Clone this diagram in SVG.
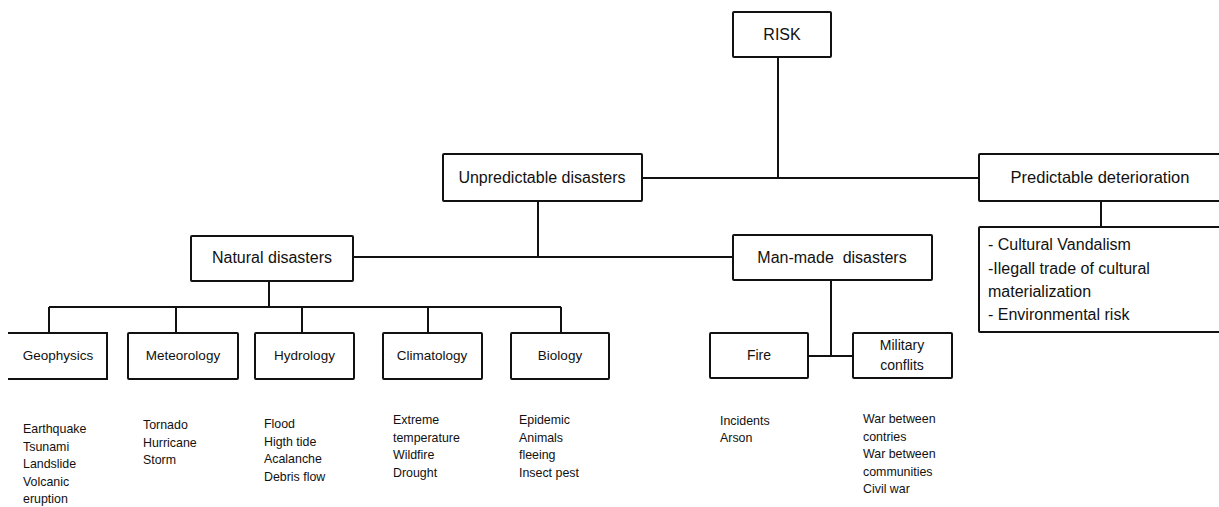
<svg xmlns="http://www.w3.org/2000/svg" width="1219" height="507" viewBox="0 0 1219 507">
<style>
.box{fill:#fff;stroke:#111;stroke-width:2}
.ln{fill:none;stroke:#111;stroke-width:2}
text{font-family:"Liberation Sans",Arial,sans-serif;fill:#111}
.l1{font-size:16px;text-anchor:middle}
.l2{font-size:13.5px;text-anchor:middle}
.l3{font-size:14px;text-anchor:middle}
.lf{font-size:12.4px}
.lt{font-size:16px}
</style>
<rect width="1219" height="507" fill="#fff"/>
<g id="connectors">
<path class="ln" d="M778,57 V178 M642,178 H979"/>
<path class="ln" d="M1101,201 V227"/>
<path class="ln" d="M538,201 V257 M353,257 H733"/>
<path class="ln" d="M269,281 V307 M49,307 H561 M49,307 V333 M176,307 V333 M302,307 V333 M428,307 V333 M561,307 V333"/>
<path class="ln" d="M831,280 V356 M808,356 H853"/>
</g>
<g id="risk"><rect class="box" x="733" y="12" width="98" height="45" rx="1"/><text class="l1" x="782" y="40" font-size="15">RISK</text></g>
<g id="unpredictable"><rect class="box" x="443" y="154" width="199" height="47" rx="1"/><text class="l1" x="542" y="183">Unpredictable disasters</text></g>
<g id="predictable"><rect class="box" x="979" y="154" width="250" height="47" rx="1"/><text class="l1" x="1100" y="183" style="font-size:16.5px">Predictable deterioration</text></g>
<g id="cultural"><rect class="box" x="979" y="227" width="250" height="105" rx="1"/>
<text class="lt" x="988" y="250">- Cultural Vandalism</text>
<text class="lt" x="988" y="273.5">-Ilegall trade of cultural</text>
<text class="lt" x="988" y="297">materialization</text>
<text class="lt" x="988" y="320">- Environmental risk</text></g>
<g id="natural"><rect class="box" x="191" y="236" width="162" height="45" rx="1"/><text class="l1" x="272" y="263">Natural disasters</text></g>
<g id="manmade"><rect class="box" x="733" y="235" width="199" height="45" rx="1"/><text class="l1" x="832" y="263" style="white-space:pre">Man-made  disasters</text></g>
<g id="geophysics"><path class="box" d="M8,333 H107 V379 H8"/><text class="l2" x="58" y="360">Geophysics</text>
<text class="lf"><tspan x="23" y="433">Earthquake</tspan><tspan x="23" y="450.5">Tsunami</tspan><tspan x="23" y="468">Landslide</tspan><tspan x="23" y="485.5">Volcanic</tspan><tspan x="23" y="503">eruption</tspan></text></g>
<g id="meteorology"><rect class="box" x="128" y="333" width="110" height="46" rx="1"/><text class="l2" x="183" y="360">Meteorology</text>
<text class="lf"><tspan x="143" y="429">Tornado</tspan><tspan x="143" y="446.5">Hurricane</tspan><tspan x="143" y="464">Storm</tspan></text></g>
<g id="hydrology"><rect class="box" x="255" y="333" width="99" height="46" rx="1"/><text class="l2" x="304.5" y="360">Hydrology</text>
<text class="lf"><tspan x="264" y="428">Flood</tspan><tspan x="264" y="445.5">Higth tide</tspan><tspan x="264" y="463">Acalanche</tspan><tspan x="264" y="480.5">Debris flow</tspan></text></g>
<g id="climatology"><rect class="box" x="383" y="333" width="99" height="46" rx="1"/><text class="l2" x="432" y="360">Climatology</text>
<text class="lf"><tspan x="393" y="424">Extreme</tspan><tspan x="393" y="441.5">temperature</tspan><tspan x="393" y="459">Wildfire</tspan><tspan x="393" y="476.5">Drought</tspan></text></g>
<g id="biology"><rect class="box" x="511" y="333" width="98" height="46" rx="1"/><text class="l2" x="560" y="360">Biology</text>
<text class="lf"><tspan x="519" y="424">Epidemic</tspan><tspan x="519" y="441.5">Animals</tspan><tspan x="519" y="459">fleeing</tspan><tspan x="519" y="476.5">Insect pest</tspan></text></g>
<g id="fire"><rect class="box" x="710" y="333" width="98" height="45" rx="1"/><text class="l3" x="759" y="360">Fire</text>
<text class="lf"><tspan x="720" y="425">Incidents</tspan><tspan x="720" y="442">Arson</tspan></text></g>
<g id="military"><rect class="box" x="853" y="333" width="99" height="45" rx="1"/><text class="l3"><tspan x="902" y="350">Military</tspan><tspan x="902" y="370">conflits</tspan></text>
<text class="lf"><tspan x="863" y="423">War between</tspan><tspan x="863" y="440.5">contries</tspan><tspan x="863" y="458">War between</tspan><tspan x="863" y="475.5">communities</tspan><tspan x="863" y="493">Civil war</tspan></text></g>
</svg>
